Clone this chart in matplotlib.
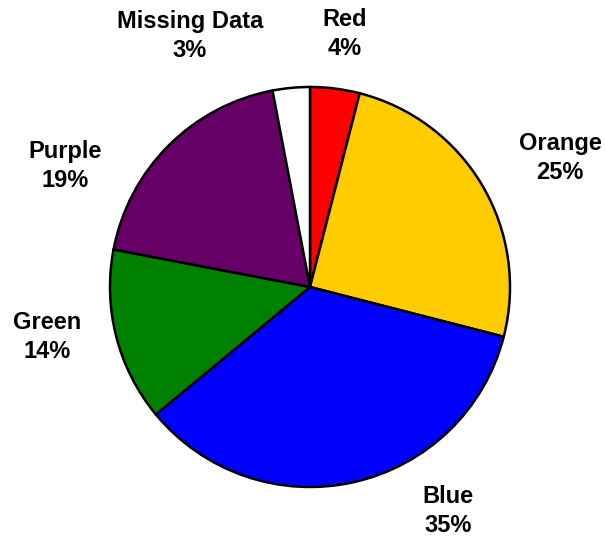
import matplotlib
matplotlib.use("Agg")
import matplotlib.pyplot as plt

labels = ["Red", "Orange", "Blue", "Green", "Purple", "Missing Data"]
values = [4, 25, 35, 14, 19, 3]
colors = ["#FF0000", "#FFCC00", "#0000FF", "#008000", "#660066", "#FFFFFF"]

# label centres in pixel coords (x, y from top)
label_pos = [(345, 34), (560, 158), (448, 511), (47, 337), (65, 166), (190, 36)]

W, H = 605, 538
fig = plt.figure(figsize=(W / 100, H / 100), dpi=100)
ax = fig.add_axes([0, 0, 1, 1])
ax.set_xlim(0, W)
ax.set_ylim(0, H)
ax.set_aspect("equal")
ax.axis("off")

ax.pie(values, colors=colors, startangle=90, counterclock=False,
       center=(310, H - 287), radius=200, frame=True,
       wedgeprops=dict(edgecolor="black", linewidth=1.8))
ax.axis("off")

for name, v, (x, y) in zip(labels, values, label_pos):
    ax.text(x, H - y, f"{name}\n{v}%", ha="center", va="center",
            fontsize=17, fontweight="bold", family="Liberation Sans",
            linespacing=1.32)

fig.savefig("out.png", dpi=100)
